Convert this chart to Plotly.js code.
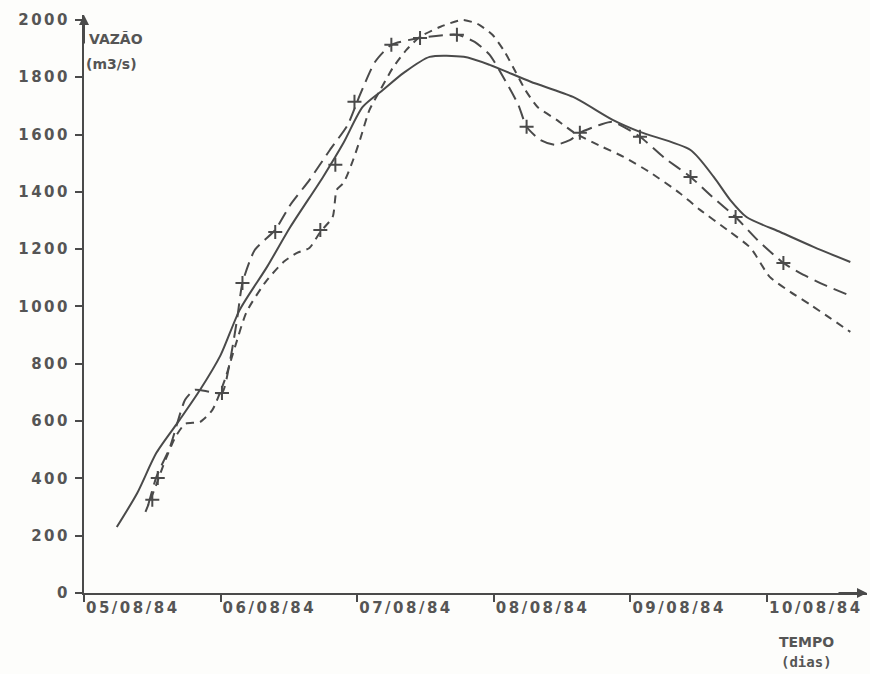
<!DOCTYPE html>
<html>
<head>
<meta charset="utf-8">
<script src="https://cdn.plot.ly/plotly-3.0.1.min.js"></script>
<style>
html,body{margin:0;padding:0;background:#fdfdfb;}
#chart{width:870px;height:674px;}
.xtick text,.ytick text{letter-spacing:2.5px;}
</style>
</head>
<body>
<div id="chart"></div>
<script>
// x = days since 05/08/84, y = vazão (m3/s)
const tickDays = [0, 1, 2, 3, 4, 5];
const tickLabels = ["05/08/84", "06/08/84", "07/08/84", "08/08/84", "09/08/84", "10/08/84"];
const yTicks = [0, 200, 400, 600, 800, 1000, 1200, 1400, 1600, 1800, 2000];

// solid curve
const solidX = [0.24, 0.39, 0.53, 0.70, 0.85, 1.00, 1.14, 1.34, 1.51, 1.75, 1.90, 2.04, 2.19, 2.34, 2.53, 2.78, 2.97, 3.27, 3.58, 3.87, 4.07, 4.44, 4.61, 4.73, 4.85, 5.10, 5.34, 5.61];
const solidY = [230, 349, 489, 604, 709, 830, 988, 1138, 1277, 1452, 1571, 1696, 1756, 1815, 1871, 1871, 1843, 1784, 1731, 1651, 1609, 1546, 1452, 1372, 1312, 1259, 1208, 1155];

// long-dash curve
const longX = [0.47, 0.53, 0.63, 0.74, 0.81, 0.92, 1.01, 1.07, 1.12, 1.16, 1.25, 1.40, 1.51, 1.65, 1.80, 1.93, 2.02, 2.13, 2.25, 2.46, 2.73, 2.86, 2.97, 3.08, 3.18, 3.24, 3.34, 3.45, 3.56, 3.63, 3.78, 3.87, 4.07, 4.25, 4.44, 4.60, 4.77, 4.93, 5.12, 5.24, 5.42, 5.61];
const longY = [307, 405, 510, 674, 709, 702, 698, 813, 953, 1082, 1197, 1267, 1354, 1441, 1546, 1633, 1738, 1853, 1913, 1937, 1948, 1923, 1878, 1791, 1703, 1627, 1581, 1564, 1581, 1606, 1634, 1644, 1592, 1518, 1452, 1382, 1312, 1232, 1152, 1117, 1075, 1037];

// short-dash curve
const shortX = [0.45, 0.52, 0.59, 0.67, 0.74, 0.85, 0.94, 1.03, 1.11, 1.19, 1.33, 1.46, 1.56, 1.65, 1.73, 1.82, 1.85, 1.90, 1.97, 2.02, 2.09, 2.17, 2.26, 2.36, 2.46, 2.61, 2.77, 2.88, 2.99, 3.08, 3.16, 3.23, 3.32, 3.46, 3.59, 3.78, 3.95, 4.14, 4.36, 4.51, 4.71, 4.88, 5.02, 5.17, 5.32, 5.46, 5.61];
const shortY = [283, 366, 457, 545, 590, 597, 639, 743, 866, 981, 1086, 1155, 1187, 1204, 1260, 1312, 1407, 1431, 1511, 1581, 1686, 1756, 1832, 1895, 1941, 1976, 2000, 1986, 1948, 1888, 1818, 1756, 1696, 1651, 1606, 1560, 1522, 1469, 1396, 1337, 1267, 1204, 1103, 1051, 1005, 960, 911];

// cross marks
const markX = [0.50, 0.54, 1.01, 1.16, 1.40, 1.73, 1.84, 1.98, 2.25, 2.46, 2.73, 3.24, 3.63, 4.07, 4.44, 4.77, 5.12];
const markY = [325, 401, 698, 1082, 1260, 1267, 1494, 1714, 1913, 1937, 1948, 1627, 1606, 1592, 1452, 1312, 1152];

const ink = "#4a4a4a";
const textInk = "#555555";
const lblFont = {family: "DejaVu Sans, sans-serif", size: 15, color: textInk, weight: "bold"};
const annFont = {family: "DejaVu Sans, sans-serif", size: 14, color: textInk, weight: "bold"};

const traces = [
  {x: solidX, y: solidY, mode: "lines", line: {color: ink, width: 2, shape: "spline", smoothing: 0.7}, hoverinfo: "skip"},
  {x: longX, y: longY, mode: "lines", line: {color: ink, width: 2, dash: "14px,7px", shape: "spline", smoothing: 0.6}, hoverinfo: "skip"},
  {x: shortX, y: shortY, mode: "lines", line: {color: ink, width: 2, dash: "8px,6px", shape: "spline", smoothing: 0.6}, hoverinfo: "skip"},
  {x: markX, y: markY, mode: "markers", marker: {symbol: "cross-thin", size: 10, color: ink, line: {color: ink, width: 2}}, hoverinfo: "skip"}
];

const layout = {
  width: 870, height: 674,
  margin: {l: 84, r: 3, t: 15, b: 81},
  paper_bgcolor: "#fdfdfb", plot_bgcolor: "#fdfdfb",
  showlegend: false,
  xaxis: {
    range: [0, 5.732], tickvals: tickDays, ticktext: tickLabels,
    ticklabelposition: "outside right",
    showgrid: false, zeroline: false, showline: true, linecolor: ink, linewidth: 2,
    ticks: "outside", ticklen: 7, tickwidth: 2, tickcolor: ink,
    tickfont: lblFont
  },
  yaxis: {
    range: [0, 2017], tickvals: yTicks,
    showgrid: false, zeroline: false, showline: true, linecolor: ink, linewidth: 2,
    ticks: "outside", ticklen: 7, tickwidth: 2, tickcolor: ink,
    tickfont: lblFont, ticklabelstandoff: 2
  },
  annotations: [
    {xref: "paper", yref: "paper", x: 0, y: 1.0, ax: 0, ay: 30, text: "", showarrow: true, arrowhead: 2, arrowsize: 1, arrowwidth: 2, arrowcolor: ink},
    {xref: "paper", yref: "paper", x: 1.0, y: 0, ax: -30, ay: 0, text: "", showarrow: true, arrowhead: 2, arrowsize: 1, arrowwidth: 2, arrowcolor: ink},
    {xref: "paper", yref: "paper", x: 0.004, y: 0.958, xanchor: "left", yanchor: "middle", text: "VAZÃO", showarrow: false, font: annFont},
    {xref: "paper", yref: "paper", x: 0.0, y: 0.915, xanchor: "left", yanchor: "middle", text: "(m3/s)", showarrow: false, font: annFont},
    {xref: "paper", yref: "paper", x: 0.885, y: -0.085, xanchor: "left", yanchor: "middle", text: "TEMPO", showarrow: false, font: annFont},
    {xref: "paper", yref: "paper", x: 0.888, y: -0.12, xanchor: "left", yanchor: "middle", text: "(dias)", showarrow: false, font: {family: "DejaVu Sans Mono, monospace", size: 14, color: textInk, weight: "bold"}}
  ]
};

Plotly.newPlot("chart", traces, layout, {staticPlot: true, displayModeBar: false});
</script>
</body>
</html>
